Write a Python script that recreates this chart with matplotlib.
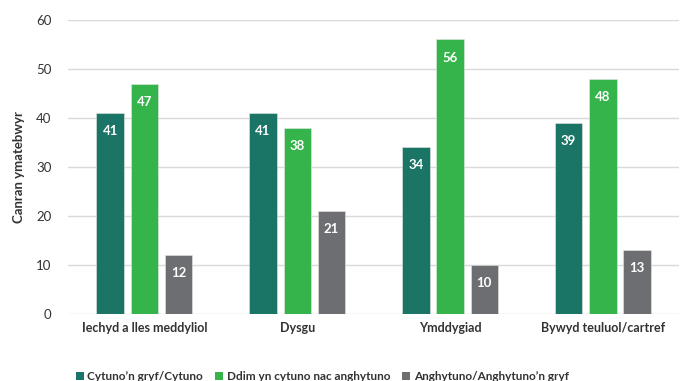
import numpy as np
import matplotlib.pyplot as plt
from matplotlib.patches import Patch

# Chart data
categories = ["Iechyd a lles meddyliol", "Dysgu", "Ymddygiad", "Bywyd teuluol/cartref"]
series_names = ["Cytuno\u2019n gryf/Cytuno", "Ddim yn cytuno nac anghytuno", "Anghytuno/Anghytuno\u2019n gryf"]
agree = [41, 41, 34, 39]
neutral = [47, 38, 56, 48]
disagree = [12, 21, 10, 13]

colors = ["#1a7566", "#34b44a", "#6d6e71"]
text_color = "#333333"

plt.rcParams['font.family'] = ['Lato', 'DejaVu Sans']

fig = plt.figure(figsize=(6.83, 3.81), dpi=100)
ax = fig.add_axes([0.0996, 0.176, 0.895, 0.772])

x = np.arange(len(categories))
width = 0.18
step = 0.224

for i, (vals, col) in enumerate(zip([agree, neutral, disagree], colors)):
    pos = x + (i - 1) * step
    bars = ax.bar(pos, vals, width, color=col, edgecolor="#e6e6e6", linewidth=0.4, zorder=3)
    for b, v in zip(bars, vals):
        ax.text(b.get_x() + b.get_width() / 2, v - 3.7, str(v), ha="center", va="center",
                color="white", fontsize=9.5, fontweight="bold", zorder=4)

ax.set_xlim(-0.5, len(categories) - 0.5)
ax.set_ylim(0, 60)
ax.set_yticks(range(0, 61, 10))
ax.yaxis.grid(True, color="#d9d9d9", linewidth=1, zorder=0)
ax.set_axisbelow(True)
for s in ax.spines.values():
    s.set_visible(False)
ax.tick_params(axis="both", length=0, colors=text_color, labelsize=9.5)
ax.tick_params(axis="y", pad=12)
ax.tick_params(axis="x", pad=6)
ax.set_xticks(x)
ax.set_xticklabels(categories, fontweight="bold", fontsize=9)
ax.set_ylabel("Canran ymatebwyr", fontsize=9.5, fontweight="bold", color=text_color, labelpad=8)

handles = [Patch(facecolor=c, edgecolor="none") for c in colors]
fig.legend(handles, series_names, loc="center left", bbox_to_anchor=(0.095, 0.012), ncol=3,
           frameon=False, handlelength=0.7, handleheight=0.7, handletextpad=0.3,
           columnspacing=1.0, labelcolor=text_color, prop={'weight': 'bold', 'size': 8.5})

fig.savefig("out.png", dpi=100)
